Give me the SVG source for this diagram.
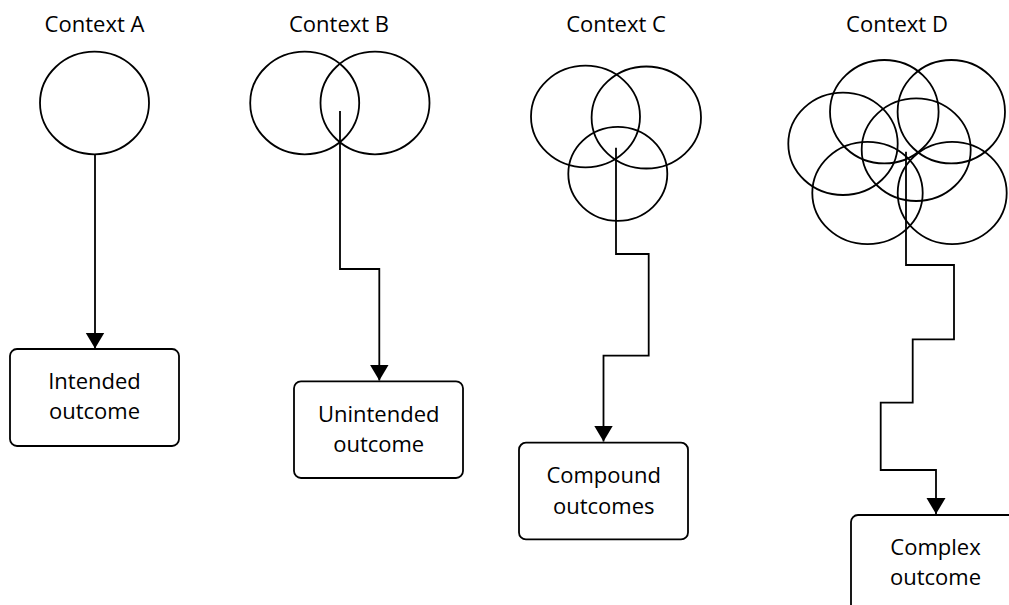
<svg xmlns="http://www.w3.org/2000/svg" width="1009" height="605" viewBox="0 0 1009 605">
<style>
.c{fill:none;stroke:#000;stroke-width:1.8}
.b{fill:#fff;stroke:#000;stroke-width:1.8}
.w{fill:none;stroke:#000;stroke-width:1.8;marker-end:url(#ah)}
text{font-family:"Open Sans","Noto Sans",sans-serif;font-size:22px;fill:#000;text-anchor:middle}
</style>
<defs>
<marker id="ah" markerUnits="userSpaceOnUse" markerWidth="18" markerHeight="20" refX="16" refY="9.5" orient="auto">
<path d="M0,0 L16,9.5 L0,19 z" fill="#000"/>
</marker>
</defs>
<rect width="1009" height="605" fill="#fff"/>
<g id="contextA">
<text x="94.5" y="32">Context A</text>
<ellipse class="c" cx="94.5" cy="103" rx="54.5" ry="51.3"/>
</g>
<g id="contextB">
<text x="339" y="32">Context B</text>
<ellipse class="c" cx="304.7" cy="103" rx="54.5" ry="51.3"/>
<ellipse class="c" cx="375" cy="103" rx="54.5" ry="51.3"/>
</g>
<g id="contextC">
<text x="616" y="32">Context C</text>
<ellipse class="c" cx="585.5" cy="116.5" rx="54.5" ry="50.8"/>
<ellipse class="c" cx="646.3" cy="117.5" rx="54.7" ry="51"/>
<ellipse class="c" cx="617.8" cy="173.8" rx="49.5" ry="47"/>
</g>
<g id="contextD">
<text x="897" y="32">Context D</text>
<ellipse class="c" cx="884.3" cy="111.7" rx="54.3" ry="51.7"/>
<ellipse class="c" cx="951.3" cy="111.7" rx="53.7" ry="51.7"/>
<ellipse class="c" cx="843" cy="143.8" rx="54.7" ry="51.2"/>
<ellipse class="c" cx="916.2" cy="149.7" rx="54.5" ry="51.3"/>
<ellipse class="c" cx="867.5" cy="193" rx="55.2" ry="51.2"/>
<ellipse class="c" cx="952.2" cy="193" rx="54.5" ry="51.2"/>
</g>
<g id="connectors">
<path class="w" d="M95,154.5 V348.5"/>
<path class="w" d="M340,111 V269 H379.3 V380.5"/>
<path class="w" d="M616,147.7 V254 H648.7 V355.7 H603.5 V441.5"/>
<path class="w" d="M906,151.7 V265 H954 V339.3 H912.7 V402.7 H880.7 V470 H936 V514"/>
</g>
<g id="outcomeA">
<rect class="b" x="10" y="349" width="169" height="97" rx="7"/>
<text x="94.5" y="388.9">Intended</text>
<text x="94.5" y="419.1">outcome</text>
</g>
<g id="outcomeB">
<rect class="b" x="294" y="381.3" width="169" height="96.7" rx="7"/>
<text x="378.7" y="421.6">Unintended</text>
<text x="378.7" y="451.8">outcome</text>
</g>
<g id="outcomeC">
<rect class="b" x="519" y="442.7" width="169" height="96.7" rx="7"/>
<text x="603.7" y="483.3">Compound</text>
<text x="603.7" y="513.5">outcomes</text>
</g>
<g id="outcomeD">
<rect class="b" x="851" y="515" width="169" height="97" rx="7"/>
<text x="935.5" y="554.9">Complex</text>
<text x="935.5" y="585.1">outcome</text>
</g>
</svg>
